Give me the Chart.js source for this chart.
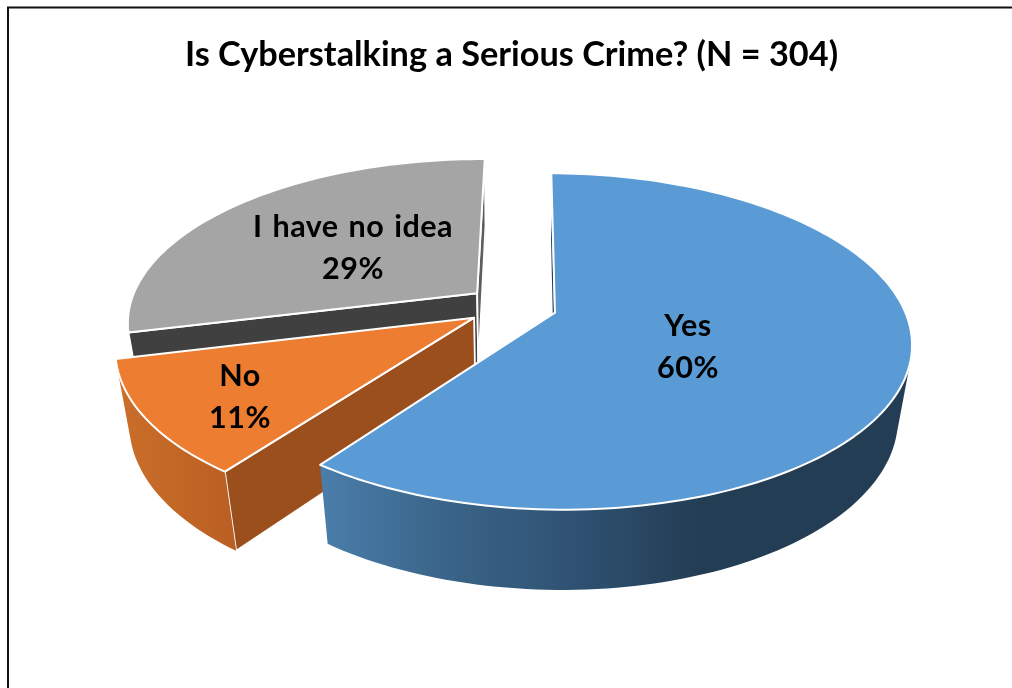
<!DOCTYPE html>
<html>
<head>
<meta charset="utf-8">
<title>Is Cyberstalking a Serious Crime?</title>
<script src="https://cdn.jsdelivr.net/npm/chart.js@4"></script>
<style>
  html, body { margin: 0; padding: 0; background: #fff; }
  canvas { display: block; }
</style>
</head>
<body>
<canvas id="pieChart" width="1012" height="688"></canvas>
<script>
// chart data
const categories = ["Yes", "No", "I have no idea"];
const shares = [60, 11, 29];

const chartTitle = "Is Cyberstalking a Serious Crime? (N = 304)";

// slice colours: top face, the two cut faces, and the rim gradient
const topColors = ["#5B9BD5", "#ED7D31", "#A5A5A5"];
const startCutColors = ["#24405A", "#9A4F1C", "#404040"];
const endCutColors = ["#24405A", "#9A4F1C", "#5E5E5E"];
const rimStops = [
  { from: 320, to: 700, colors: ["#4A7EAB", "#3A6488", "#2F5273", "#233D54"] },
  { from: 118, to: 230, colors: ["#CB6E2A", "#BB6024"] },
  { from: 130, to: 480, colors: ["#7C7C7C", "#7C7C7C"] },
];

// label centre for each slice, two lines
const labelCentres = [[688, 347], [240, 397], [353, 248]];

// perspective of the pie plane
const view = { cx: 512, cy: 306, rx: 348, ry: 161, tilt: 0.17, depth: 76, shrink: 0.035 };

function project(u, v, z) {
  const w = 1 - view.tilt * v + view.shrink * z;
  return [view.cx + (view.rx * u) / w, view.cy + (view.ry * v + view.depth * z) / w];
}

function addPath(ctx, points) {
  points.forEach((p, i) => (i ? ctx.lineTo(p[0], p[1]) : ctx.moveTo(p[0], p[1])));
  ctx.closePath();
}

// a side face is turned to the viewer when its corners run counter-clockwise on screen
function facesViewer(points) {
  let area = 0;
  points.forEach((p, i) => {
    const q = points[(i + 1) % points.length];
    area += p[0] * q[1] - q[0] * p[1];
  });
  return area < 0;
}

function drawSlice(ctx, arc, index) {
  const start = arc.startAngle;
  const end = arc.endAngle;
  const mid = (start + end) / 2;
  const explode = arc.options.offset / arc.outerRadius;
  const ox = explode * Math.cos(mid);
  const oy = explode * Math.sin(mid);
  const rimPoint = (a, z) => project(ox + Math.cos(a), oy + Math.sin(a), z);
  const apex = (z) => project(ox, oy, z);

  ctx.lineJoin = "round";

  // cut faces
  const cuts = [
    [[apex(0), rimPoint(start, 0), rimPoint(start, 1), apex(1)], startCutColors[index]],
    [[rimPoint(end, 0), apex(0), apex(1), rimPoint(end, 1)], endCutColors[index]],
  ];
  cuts.forEach(([quad, color]) => {
    if (!facesViewer(quad)) return;
    ctx.beginPath();
    addPath(ctx, quad);
    ctx.fillStyle = color;
    ctx.fill();
    ctx.strokeStyle = "#fff";
    ctx.lineWidth = 1.8;
    ctx.stroke();
  });

  // outer rim, only the part turned to the viewer
  const stops = rimStops[index];
  const gradient = ctx.createLinearGradient(stops.from, 0, stops.to, 0);
  stops.colors.forEach((c, i) => gradient.addColorStop(i / (stops.colors.length - 1), c));
  const steps = Math.ceil((end - start) * 40);
  ctx.beginPath();
  for (let i = 0; i < steps; i++) {
    const a0 = start + ((end - start) * i) / steps;
    const a1 = start + ((end - start) * (i + 1)) / steps;
    const quad = [rimPoint(a0, 0), rimPoint(a1, 0), rimPoint(a1, 1), rimPoint(a0, 1)];
    if (facesViewer(quad)) addPath(ctx, quad);
  }
  ctx.fillStyle = gradient;
  ctx.fill();

  // top face
  const top = [apex(0)];
  for (let i = 0; i <= steps; i++) {
    top.push(rimPoint(start + ((end - start) * i) / steps, 0));
  }
  ctx.beginPath();
  addPath(ctx, top);
  ctx.fillStyle = topColors[index];
  ctx.fill();
  ctx.strokeStyle = "#fff";
  ctx.lineWidth = 2;
  ctx.stroke();
}

const tiltedPie = {
  id: "tiltedPie",
  beforeDraw(chart) {
    // frame around the chart: left and top sides only reach the page edge
    const ctx = chart.ctx;
    ctx.save();
    ctx.strokeStyle = "#111";
    ctx.lineWidth = 2;
    ctx.beginPath();
    ctx.moveTo(8, 688);
    ctx.lineTo(8, 7.5);
    ctx.lineTo(1012, 7.5);
    ctx.stroke();
    ctx.restore();
  },
  beforeDatasetsDraw(chart) {
    const ctx = chart.ctx;
    const arcs = chart.getDatasetMeta(0).data;
    ctx.save();
    // back to front
    [2, 1, 0].forEach((i) => drawSlice(ctx, arcs[i], i));
    ctx.restore();
    return false;
  },
  afterDraw(chart) {
    const ctx = chart.ctx;
    ctx.save();
    ctx.fillStyle = "#000";
    ctx.font = "bold 30.5px Lato";
    ctx.letterSpacing = "0.5px";
    ctx.wordSpacing = "2px";
    ctx.textAlign = "center";
    ctx.textBaseline = "middle";
    categories.forEach((name, i) => {
      const [x, y] = labelCentres[i];
      ctx.fillText(name, x, y - 21);
      ctx.fillText(shares[i] + "%", x, y + 21);
    });
    ctx.restore();
  },
};

new Chart(document.getElementById("pieChart"), {
  type: "pie",
  data: {
    labels: categories,
    datasets: [
      {
        data: shares,
        backgroundColor: topColors,
        borderWidth: 0,
        offset: 36,
      },
    ],
  },
  options: {
    responsive: false,
    animation: false,
    rotation: 0.5,
    layout: { padding: { left: 11 } },
    plugins: {
      legend: { display: false },
      tooltip: { enabled: false },
      title: {
        display: true,
        text: chartTitle,
        color: "#000",
        font: { family: "Lato", size: 34.3, weight: "bold" },
        padding: { top: 34, bottom: 20 },
      },
    },
  },
  plugins: [tiltedPie],
});
</script>
</body>
</html>
